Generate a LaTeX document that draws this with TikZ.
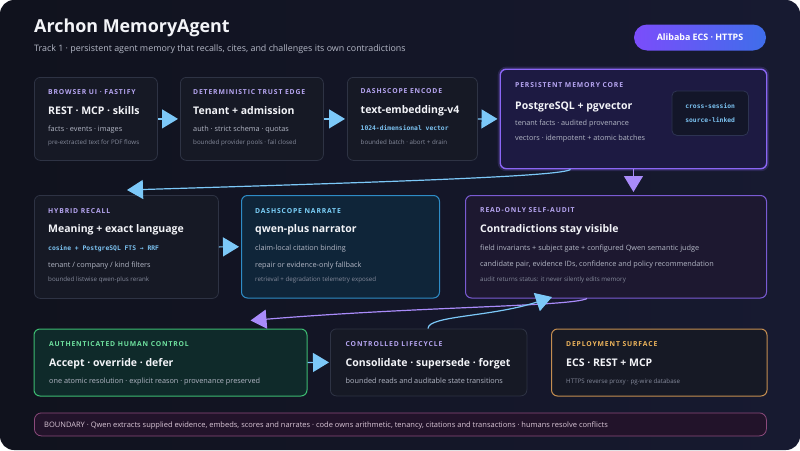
\documentclass[tikz,border=0pt]{standalone}
\usepackage{fontspec}
\setmainfont{Open Sans}
\newfontfamily\kickerfont{Open Sans}[LetterSpace=12.5, BoldFeatures={LetterSpace=12.5}]
\newfontfamily\codefont{DejaVu Sans Mono}
\usetikzlibrary{arrows.meta}

\definecolor{bgdark}{HTML}{10121D}
\definecolor{bgblue}{HTML}{171A31}
\definecolor{cardfill}{HTML}{161925}
\definecolor{cardline}{HTML}{2E3344}
\definecolor{txtwhite}{HTML}{F3F4F8}
\definecolor{txtgray}{HTML}{B4B8C6}
\definecolor{txtdim}{HTML}{858A9B}
\definecolor{kickerpurple}{HTML}{B7A6F2}
\definecolor{kickercyan}{HTML}{7DD3FC}
\definecolor{kickergreen}{HTML}{6FE3A0}
\definecolor{kickergold}{HTML}{F0B65C}
\definecolor{codeblue}{HTML}{7CC3F2}
\definecolor{flowblue}{HTML}{7CC8F8}
\definecolor{flowpurple}{HTML}{A98BFA}
\definecolor{corefill}{HTML}{1D1A42}
\definecolor{coreline}{HTML}{8B66F5}
\definecolor{tagfill}{HTML}{131629}
\definecolor{tagline}{HTML}{2D3352}
\definecolor{narratefill}{HTML}{0F2539}
\definecolor{narrateline}{HTML}{2E8CC6}
\definecolor{auditfill}{HTML}{1D1830}
\definecolor{auditline}{HTML}{7A5BD3}
\definecolor{humanfill}{HTML}{0F2A2A}
\definecolor{humanline}{HTML}{3DBB72}
\definecolor{deployline}{HTML}{C48E50}
\definecolor{boundfill}{HTML}{22132A}
\definecolor{boundline}{HTML}{8C4A7C}
\definecolor{boundtxt}{HTML}{D9C6D6}
\definecolor{badgeleft}{HTML}{7B4DFB}
\definecolor{badgeright}{HTML}{3F6EEA}

\tikzset{
  card/.style={draw=cardline, fill=cardfill, line width=0.8pt, rounded corners=6pt, anchor=north west, inner sep=0pt},
  corecard/.style={card, draw=coreline, fill=corefill, line width=1.4pt, preaction={draw=coreline, line width=5pt, opacity=0.18}},
  kicker/.style={anchor=base west, inner sep=0pt, text=kickerpurple, font=\kickerfont\bfseries\fontsize{6.8}{7.5}\selectfont},
  narratekicker/.style={kicker, text=kickercyan},
  humankicker/.style={kicker, text=kickergreen},
  deploykicker/.style={kicker, text=kickergold},
  headline/.style={anchor=base west, inner sep=0pt, text=txtwhite, font=\bfseries\fontsize{10.5}{12}\selectfont},
  bodytxt/.style={anchor=base west, inner sep=0pt, text=txtgray, font=\fontsize{7.3}{8.5}\selectfont},
  finetxt/.style={anchor=base west, inner sep=0pt, text=txtdim, font=\fontsize{6.2}{7}\selectfont},
  monotxt/.style={anchor=base west, inner sep=0pt, text=codeblue, font=\codefont\bfseries\fontsize{6.35}{7.5}\selectfont},
  flow/.style={line width=1.2pt, -{Triangle[width=19pt,length=16pt]}},
}

\begin{document}
\begin{tikzpicture}[x=1pt, y=-1pt]

\useasboundingbox (0,0) rectangle (800,450);
\fill[white] (0,0) rectangle (800,450);
\shade[rounded corners=14pt, left color=bgdark, right color=bgblue] (0,0) rectangle (800,450);

% header
\node[anchor=base west, inner sep=0pt, text=txtwhite, font=\bfseries\fontsize{17.9}{21}\selectfont] (title) at (34,32.5) {Archon MemoryAgent};
\node[anchor=base west, inner sep=0pt, text=txtgray, font=\fontsize{8.9}{10}\selectfont] (subtitle) at (34,51.5) {Track 1 · persistent agent memory that recalls, cites, and challenges its own contradictions};
\node[rounded corners=13pt, left color=badgeleft, right color=badgeright, minimum width=132pt, minimum height=26pt, text=white, font=\bfseries\fontsize{8.9}{10}\selectfont] (badge) at (700,37.5) {Alibaba ECS · HTTPS};

% cards
\node[card, minimum width=123pt, minimum height=83pt] (ui) at (34,77) {};
\node[card, minimum width=143pt, minimum height=83pt] (trust) at (180,77) {};
\node[card, minimum width=130pt, minimum height=83pt] (encode) at (347,77) {};
\node[corecard, minimum width=266.5pt, minimum height=99.5pt] (core) at (499.5,68.5) {};
\node[card, draw=tagline, fill=tagfill, rounded corners=5pt, minimum width=76.5pt, minimum height=44.5pt, text=codeblue, align=center, font=\codefont\bfseries\fontsize{6.35}{7.5}\selectfont] (tags) at (671.5,90.5) {cross-session\\[6.5pt]source-linked};

\node[card, minimum width=184pt, minimum height=103pt] (recall) at (34,195) {};
\node[card, draw=narrateline, fill=narratefill, line width=1pt, minimum width=198pt, minimum height=102.5pt] (narrate) at (241,195) {};
\node[card, draw=auditline, fill=auditfill, line width=1pt, minimum width=301pt, minimum height=102.5pt] (audit) at (465,195) {};

\node[card, draw=humanline, fill=humanfill, line width=1pt, minimum width=273pt, minimum height=67pt] (human) at (33.5,328.5) {};
\node[card, minimum width=196.5pt, minimum height=67pt] (life) at (330,328.5) {};
\node[card, draw=deployline, line width=1pt, minimum width=215.5pt, minimum height=67pt] (deploy) at (551,328.5) {};

\node[card, draw=boundline, fill=boundfill, rounded corners=7pt, minimum width=732pt, minimum height=23pt] (boundary) at (34,412.5) {};
\node[anchor=base west, inner sep=0pt, text=boundtxt, font=\fontsize{7.5}{8}\selectfont] (boundary-txt) at ([shift={(10,14.5)}]boundary.north west) {BOUNDARY · Qwen extracts supplied evidence, embeds, scores and narrates · code owns arithmetic, tenancy, citations and transactions · humans resolve conflicts};

% card texts
\foreach \c/\dx/\y/\s/\t [count=\k] in {
  ui/14/17/kicker/{BROWSER UI · FASTIFY},
  ui/14/37/headline/{REST · MCP · skills},
  ui/14/54/bodytxt/{facts · events · images},
  ui/14/67/finetxt/{pre-extracted text for PDF flows},
  trust/13/17/kicker/{DETERMINISTIC TRUST EDGE},
  trust/13/37/headline/{Tenant + admission},
  trust/13/54/bodytxt/{auth · strict schema · quotas},
  trust/13/67/finetxt/{bounded provider pools · fail closed},
  encode/13.5/16.5/kicker/{DASHSCOPE ENCODE},
  encode/13.5/36/headline/{text-embedding-v4},
  encode/13.5/53.5/monotxt/{1024-dimensional vector},
  encode/13.5/67/finetxt/{bounded batch · abort + drain},
  core/15.5/19/kicker/{PERSISTENT MEMORY CORE},
  core/15.5/41/headline/{PostgreSQL + pgvector},
  core/15.5/56.5/bodytxt/{tenant facts · audited provenance},
  core/15.5/71.5/bodytxt/{vectors · idempotent + atomic batches},
  recall/14/18/kicker/{HYBRID RECALL},
  recall/14/37.5/headline/{Meaning + exact language},
  recall/14/55/monotxt/{cosine + PostgreSQL FTS → RRF},
  recall/14/72/bodytxt/{tenant / company / kind filters},
  recall/14/86/finetxt/{bounded listwise qwen-plus rerank},
  narrate/14/18/narratekicker/{DASHSCOPE NARRATE},
  narrate/14/37.5/headline/{qwen-plus narrator},
  narrate/14/55/bodytxt/{claim-local citation binding},
  narrate/14/72/bodytxt/{repair or evidence-only fallback},
  narrate/14/86/finetxt/{retrieval + degradation telemetry exposed},
  audit/15/17.5/kicker/{READ-ONLY SELF-AUDIT},
  audit/15/37.5/headline/{Contradictions stay visible},
  audit/15/55/bodytxt/{field invariants + subject gate + configured Qwen semantic judge},
  audit/15/71/bodytxt/{candidate pair, evidence IDs, confidence and policy recommendation},
  audit/15/86/finetxt/{audit returns status: it never silently edits memory},
  human/15.5/18/humankicker/{AUTHENTICATED HUMAN CONTROL},
  human/15.5/38/headline/{Accept · override · defer},
  human/15.5/55/bodytxt/{one atomic resolution · explicit reason · provenance preserved},
  life/15.5/18/kicker/{CONTROLLED LIFECYCLE},
  life/15.5/38/headline/{Consolidate · supersede · forget},
  life/15.5/55/bodytxt/{bounded reads and auditable state transitions},
  deploy/15/18/deploykicker/{DEPLOYMENT SURFACE},
  deploy/15/38/headline/{ECS · REST + MCP},
  deploy/15/55/finetxt/{HTTPS reverse proxy · pg-wire database}}
  \node[\s] (\c-\k) at ([shift={(\dx,\y)}]\c.north west) {\t};

% flow
\draw[flow, flowblue, shorten >=2pt] (ui.east) -- (trust.west);
\draw[flow, flowblue, shorten >=2pt] (trust.east) -- (encode.west);
\draw[flow, flowblue, shorten >=2pt] (encode.east) -- (core.west);
\draw[flow, flowblue, shorten >=2pt] (recall.east) -- (narrate.west);
\draw[flow, flowblue, shorten >=1pt] (human.east) -- (life.west);
\draw[flow, flowblue] ([shift={(71,0)}]core.south west) .. controls +(-8,7) and +(260,-8) .. ([shift={(93,-5)}]recall.north west);
\draw[flow, flowpurple, shorten >=3pt] (core.south) -- (core.south |- audit.north);
\draw[flow, flowpurple] ([shift={(122,0)}]audit.south west) .. controls +(-15,8) and +(170,-14) .. ([shift={(217,-8)}]human.north west);
\draw[flow, flowblue] ([shift={(98,0)}]life.north west) .. controls +(0,-13) and +(-60,20) .. ([shift={(87,-1.5)}]audit.south west);

\end{tikzpicture}
\end{document}
